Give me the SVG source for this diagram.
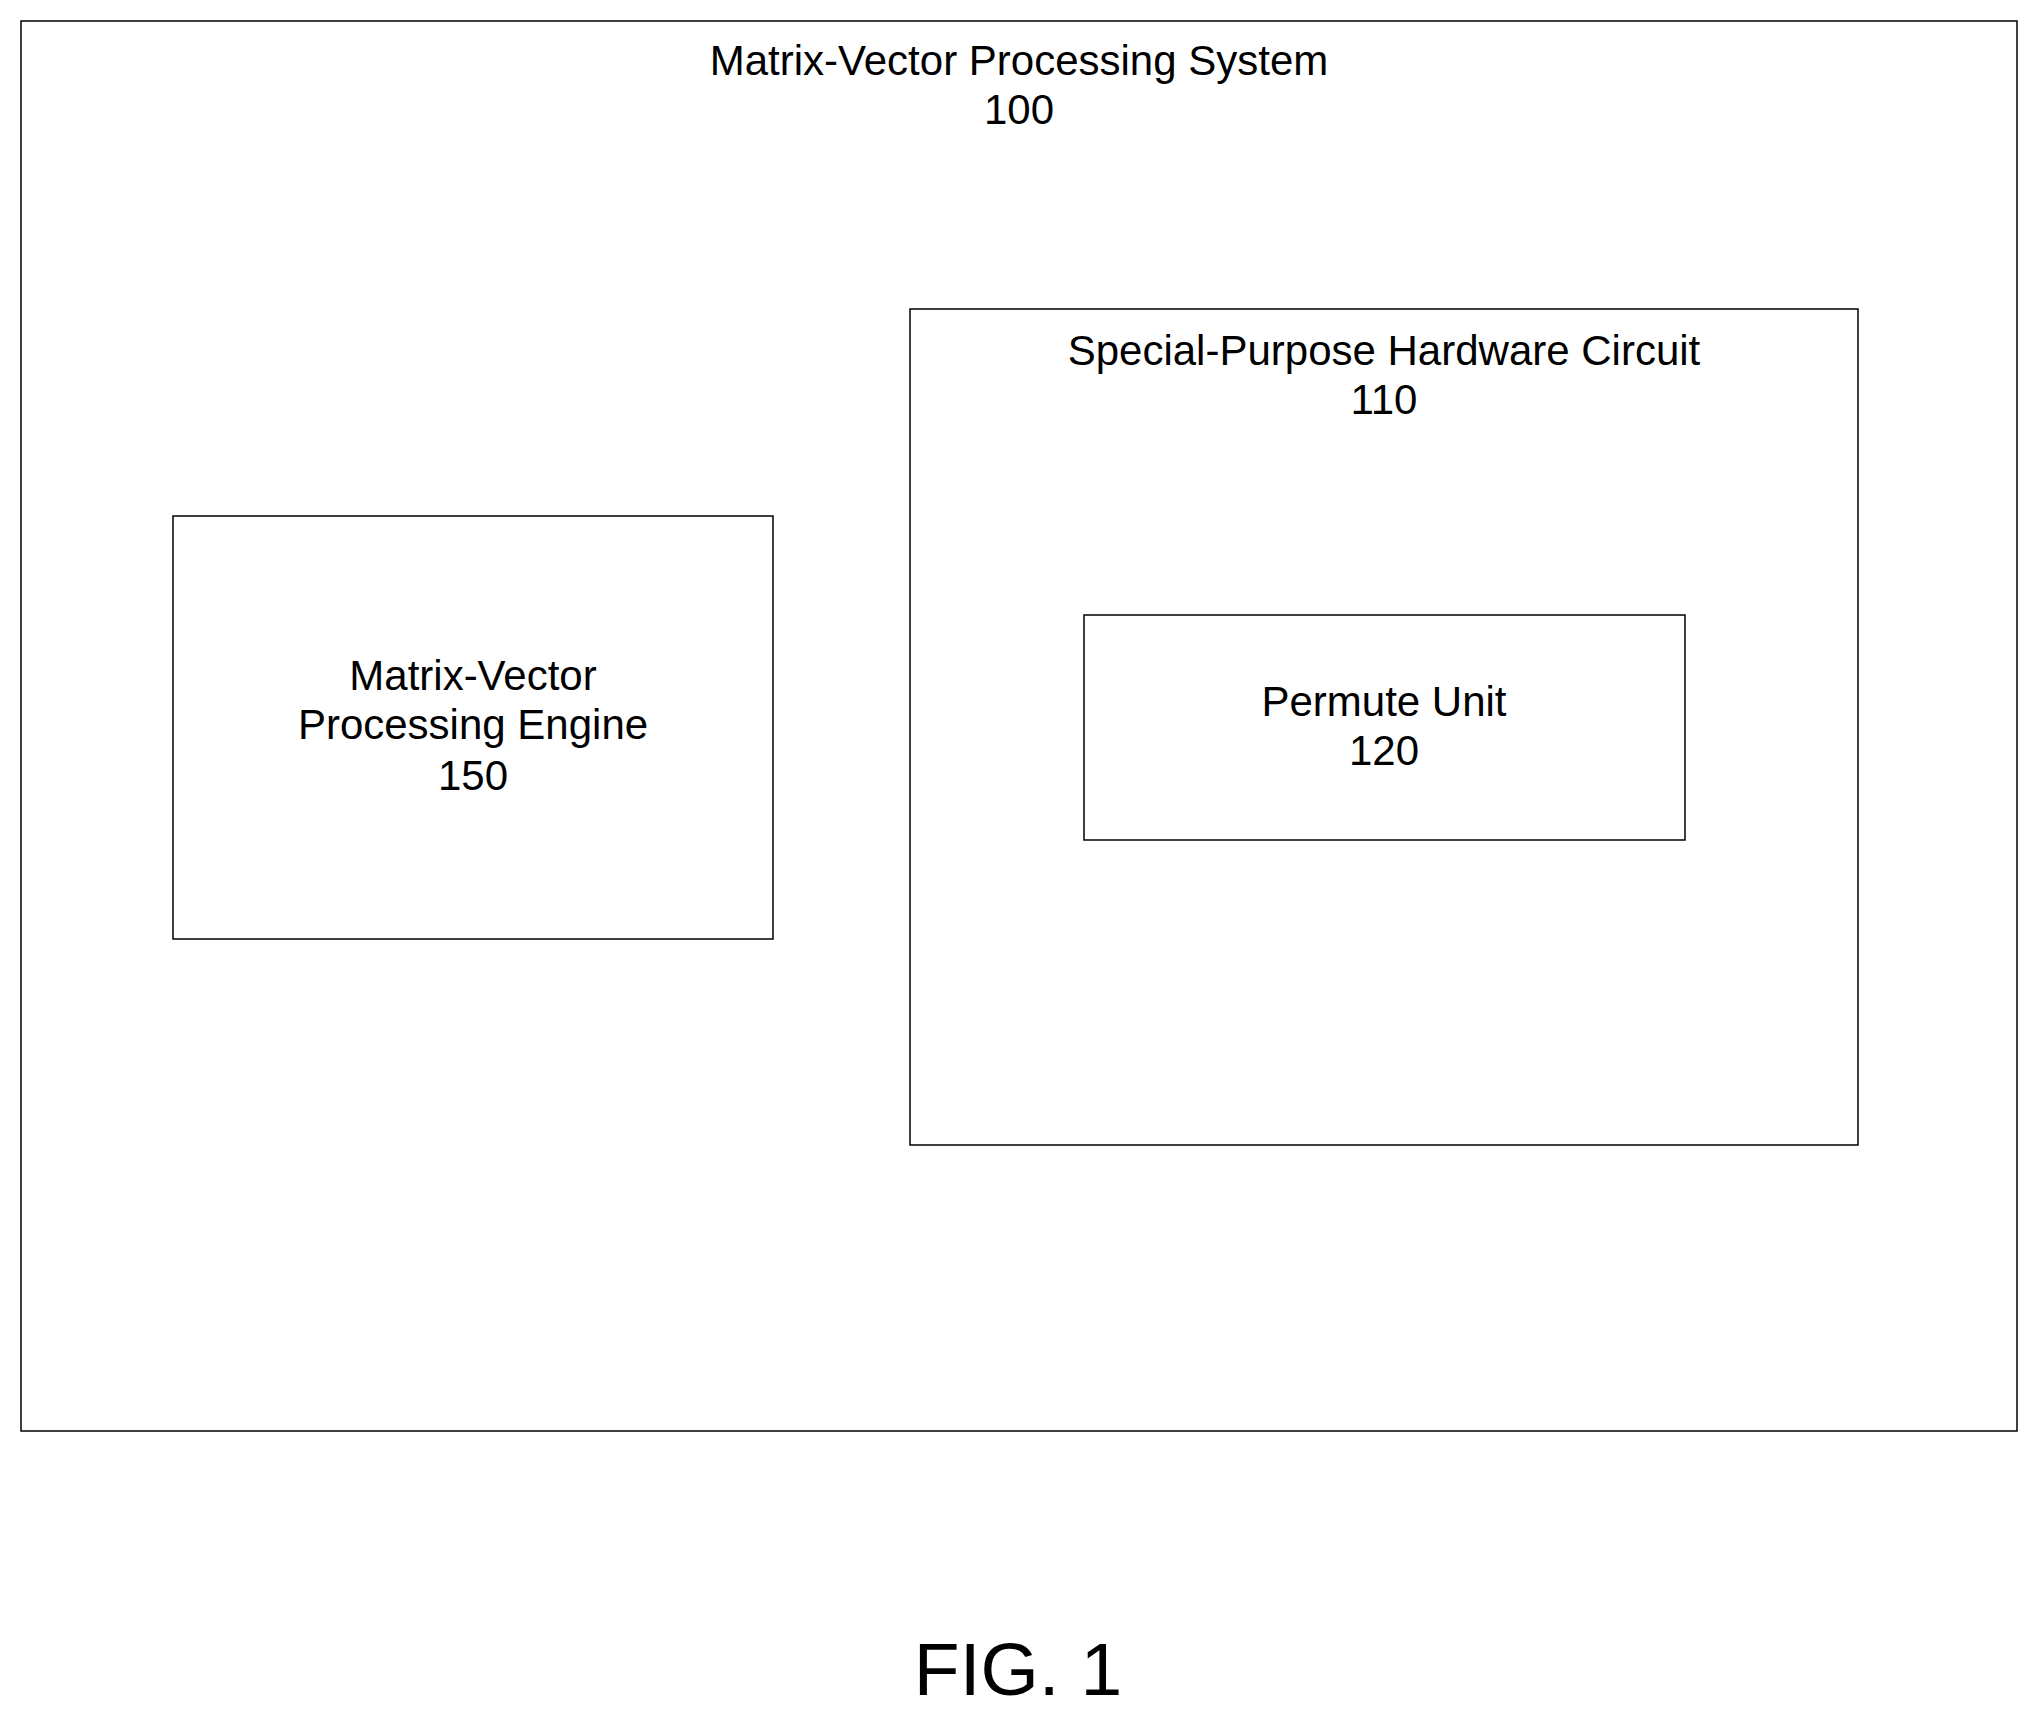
<svg xmlns="http://www.w3.org/2000/svg" width="2038" height="1719" viewBox="0 0 2038 1719">
<style>
rect{fill:none;stroke:#000;stroke-width:1.5}
text{font-family:"Liberation Sans",Arial,sans-serif;font-size:42px;text-anchor:middle;fill:#000;dominant-baseline:middle}
</style>
<rect x="0" y="0" width="2038" height="1719" style="fill:#fff;stroke:none"/>
<g id="system"><rect x="21" y="21" width="1996" height="1410"/>
<text x="1019" y="64">Matrix-Vector Processing System</text><text x="1019" y="113">100</text></g>
<g id="circuit"><rect x="910" y="309" width="948" height="836"/>
<text x="1384" y="354">Special-Purpose Hardware Circuit</text><text x="1384" y="403">110</text></g>
<g id="permute"><rect x="1084" y="615" width="601" height="225"/>
<text x="1384" y="705">Permute Unit</text><text x="1384" y="754">120</text></g>
<g id="engine"><rect x="173" y="516" width="600" height="423"/>
<text x="473" y="679">Matrix-Vector</text><text x="473" y="728">Processing Engine</text><text x="473" y="779">150</text></g>
<g id="connectors"/>
<text x="1018" y="1675" style="font-size:75px">FIG. 1</text>
</svg>
